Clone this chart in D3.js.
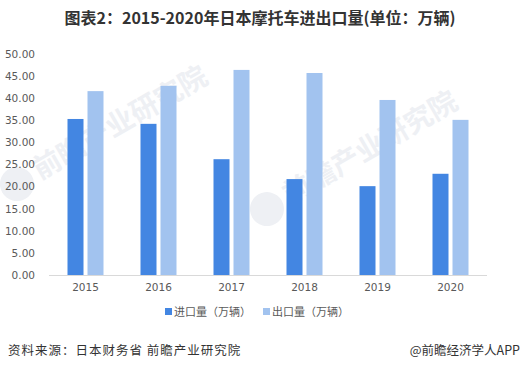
<!DOCTYPE html>
<meta charset="utf-8">
<style>
	body { margin: 0; background: #fff; }
	text { font-family: "Microsoft YaHei", "Noto Sans CJK SC", sans-serif; }
	.axis path { display: none; }
	.axis line { display: none; }
	.axis text { fill: #595959; font-size: 10.5px; font-family: "DejaVu Sans", "Noto Sans", sans-serif; }
</style>

<svg width="521" height="370"></svg>
<script src="https://d3js.org/d3.v7.min.js"></script>

<script>
	// data
	var years = ["2015", "2016", "2017", "2018", "2019", "2020"];
	var importVals = [35.3, 34.2, 26.2, 21.7, 20.1, 22.9];
	var exportVals = [41.6, 42.8, 46.4, 45.7, 39.6, 35.1];
	var seriesNames = ["进口量（万辆）", "出口量（万辆）"];
	var yTicks = [0, 5, 10, 15, 20, 25, 30, 35, 40, 45, 50];
	var colors = ["#4386E2", "#A2C3EF"];

	var svg = d3.select("svg"),
	    margin = {top: 54, right: 34, bottom: 95, left: 49},
	    width = +svg.attr("width") - margin.left - margin.right,
	    height = +svg.attr("height") - margin.top - margin.bottom;

	// faint watermark
	var wm = svg.append("g").attr("fill", "#eef0f4");
	[[40, 180], [290, 205]].forEach(function(p) {
		var t = wm.append("g").attr("transform", "translate(" + p[0] + "," + p[1] + ") rotate(-30)");
		t.append("circle").attr("cx", -22).attr("cy", -8).attr("r", 17);
		t.append("text").attr("x", 0).attr("y", 0).attr("font-size", 28).attr("font-weight", "bold").text("前瞻产业研究院");
	});

	var x = d3.scaleBand().domain(years).range([0, width]),
	    y = d3.scaleLinear().domain([0, 50]).range([height, 0]);

	var g = svg.append("g").attr("transform", "translate(" + margin.left + "," + margin.top + ")");

	// title
	svg.append("text")
	    .attr("x", 260).attr("y", 24)
	    .attr("text-anchor", "middle")
	    .attr("font-size", 16).attr("font-weight", "bold")
	    .attr("fill", "#333")
	    .text("图表2：2015-2020年日本摩托车进出口量(单位：万辆)");

	// y axis labels
	g.append("g")
	    .attr("class", "axis axis--y")
	    .attr("transform", "translate(-11,0)")
	    .call(d3.axisLeft(y).tickValues(yTicks).tickFormat(d3.format(".2f")).tickSize(0));

	// x axis
	g.append("g")
	    .attr("class", "axis axis--x")
	    .attr("transform", "translate(0," + height + ")")
	    .call(d3.axisBottom(x).tickSize(0).tickPadding(9));

	g.append("line")
	    .attr("x1", 0).attr("x2", width)
	    .attr("y1", height + 0.5).attr("y2", height + 0.5)
	    .attr("stroke", "#d9d9d9");

	var barW = 16, gap = 4;
	var series = [importVals, exportVals];

	series.forEach(function(vals, i) {
		g.selectAll(".bar" + i)
		    .data(vals)
		  .enter().append("rect")
		    .attr("class", "bar" + i)
		    .attr("x", function(d, j) { return x(years[j]) + x.bandwidth() / 2 - barW - gap / 2 + i * (barW + gap); })
		    .attr("y", function(d) { return y(d); })
		    .attr("width", barW)
		    .attr("height", function(d) { return height - y(d); })
		    .attr("fill", colors[i]);
	});

	// legend
	var legend = svg.append("g").attr("transform", "translate(165,308)");
	[0, 98].forEach(function(dx, i) {
		legend.append("rect").attr("x", dx).attr("y", 0).attr("width", 7).attr("height", 7).attr("fill", colors[i]);
		legend.append("text").attr("x", dx + 9).attr("y", 8)
		    .attr("font-size", 11).attr("fill", "#595959").text(seriesNames[i]);
	});

	// footer
	svg.append("text").attr("x", 8).attr("y", 355)
	    .attr("font-size", 12.5).attr("fill", "#333").attr("letter-spacing", 1)
	    .text("资料来源：日本财务省 前瞻产业研究院");
	svg.append("text").attr("x", 520).attr("y", 355)
	    .attr("text-anchor", "end")
	    .attr("font-size", 12.5).attr("fill", "#333")
	    .text("@前瞻经济学人APP");
</script>
